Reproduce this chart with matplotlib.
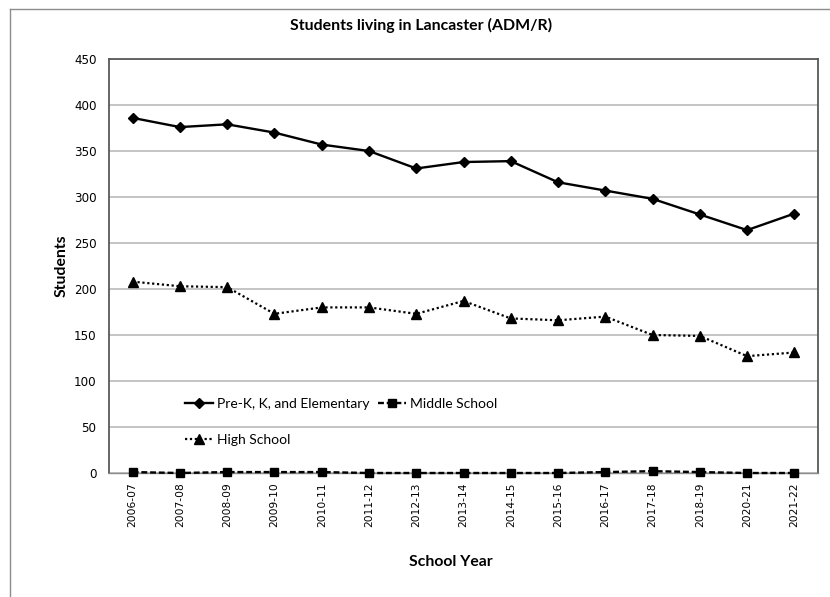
import matplotlib
matplotlib.use("Agg")
import matplotlib.pyplot as plt
from matplotlib.lines import Line2D

years = ["2006-07", "2007-08", "2008-09", "2009-10", "2010-11", "2011-12", "2012-13",
         "2013-14", "2014-15", "2015-16", "2016-17", "2017-18", "2018-19", "2020-21", "2021-22"]
prek_elem = [386, 376, 379, 370, 357, 350, 331, 338, 339, 316, 307, 298, 281, 264, 282]
middle = [1, 0, 1, 1, 1, 0, 0, 0, 0, 0, 1, 2, 1, 0, 0]
high = [208, 203, 202, 173, 180, 180, 173, 187, 168, 166, 170, 150, 149, 127, 131]

W, H = 830, 597
fig = plt.figure(figsize=(W / 100, H / 100), dpi=100)

# outer chart border (left and top visible)
fig.add_artist(Line2D([10 / W, 10 / W], [0, 1 - 9 / H], transform=fig.transFigure,
                      color="#8c8c8c", lw=1.0))
fig.add_artist(Line2D([10 / W, 1], [1 - 9 / H, 1 - 9 / H], transform=fig.transFigure,
                      color="#8c8c8c", lw=1.0))

left, right, top, bottom = 109, 818, 59, 473
ax = fig.add_axes([left / W, 1 - bottom / H, (right - left) / W, (bottom - top) / H])

x = list(range(len(years)))
l1, = ax.plot(x, prek_elem, color="black", lw=1.7, marker="D", ms=5.5,
              label="Pre-K, K, and Elementary", zorder=4)
l2, = ax.plot(x, middle, color="black", lw=1.7, ls=(0, (2.5, 1.2)), marker="s", ms=5.5,
              label="Middle School", zorder=4, clip_on=False)
l3, = ax.plot(x, high, color="black", lw=1.6, ls=(0, (1, 1.2)), marker="^", ms=6.5,
              label="High School", zorder=4)

ax.set_xlim(-0.5, len(years) - 0.5)
ax.set_ylim(0, 450)
ax.set_yticks(range(0, 451, 50))
ax.set_xticks(x)
ax.set_xticklabels(years, rotation=90, fontsize=7.7, family="DejaVu Sans")
for lab in ax.get_yticklabels():
    lab.set_fontsize(8.6)
    lab.set_family("DejaVu Sans")
ax.tick_params(axis="both", length=0)
ax.tick_params(axis="y", pad=9)
ax.tick_params(axis="x", pad=7)

ax.grid(axis="y", color="#bfbfbf", lw=1.3)
ax.set_axisbelow(True)
for s in ["left", "top", "right"]:
    ax.spines[s].set_color("#595959")
    ax.spines[s].set_linewidth(1.3)
ax.spines["bottom"].set_color("#8c8c8c")
ax.spines["bottom"].set_linewidth(1.0)

ax.set_ylabel("Students", fontsize=11.3, fontweight="bold", family="Lato")
ax.yaxis.set_label_coords((69 - left) / (right - left), 0.5)
ax.set_xlabel("School Year", fontsize=11.3, fontweight="bold", family="Lato")
ax.xaxis.set_label_coords((451 - left) / (right - left), -(555 - bottom) / (bottom - top))

fig.text(421 / W, 1 - 25 / H, "Students living in Lancaster (ADM/R)", ha="center",
         va="center", fontsize=11.4, fontweight="bold", family="Lato")

leg = ax.legend([l1, l3, l2], ["Pre-K, K, and Elementary", "High School", "Middle School"],
                ncol=2, loc="upper left", bbox_to_anchor=(185 / W, 1 - 398 / H),
                bbox_transform=fig.transFigure, frameon=False, borderpad=0,
                borderaxespad=0, handlelength=2.0, handletextpad=0.3,
                columnspacing=0.6, labelspacing=1.75,
                prop={"family": "Lato", "size": 10})

fig.savefig("out.png", dpi=100)
